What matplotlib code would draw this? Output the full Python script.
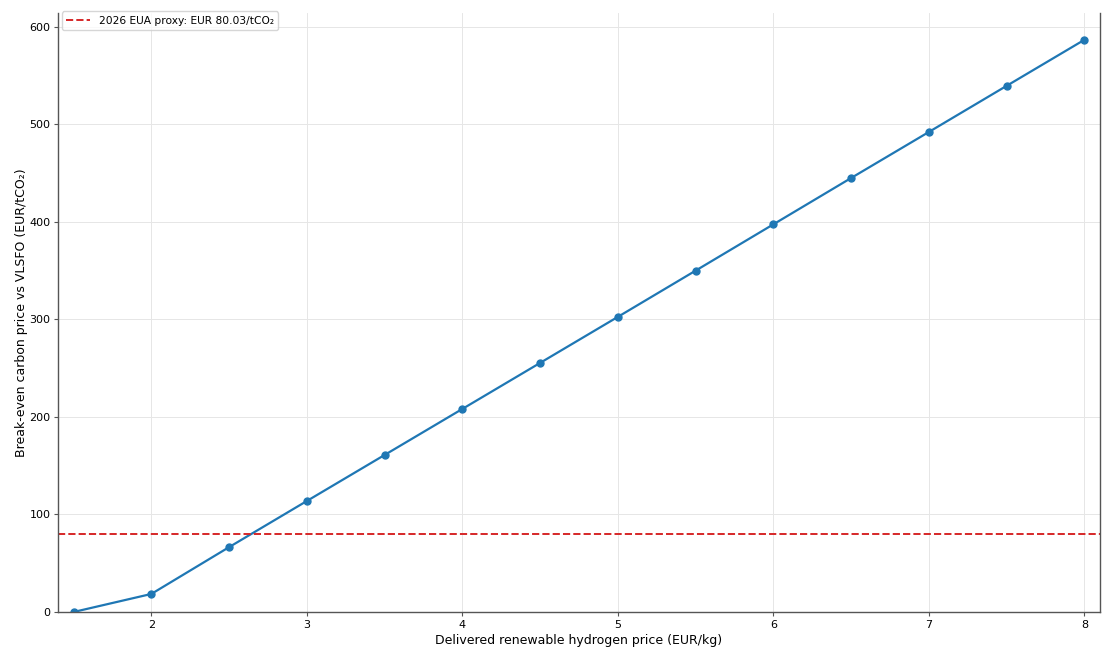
import matplotlib
matplotlib.use("Agg")
import matplotlib.pyplot as plt

h2_price = [1.5, 2.0, 2.5, 3.0, 3.5, 4.0, 4.5, 5.0, 5.5, 6.0, 6.5, 7.0, 7.5, 8.0]
breakeven = [0.0, 18.5, 66.5, 113.8, 161.0, 208.2, 255.4, 302.6, 350.0, 397.5, 445.0, 492.2, 539.5, 586.7]
eua_price = 80.03

fig = plt.figure(figsize=(11.13, 6.58), dpi=100)
ax = fig.add_axes([0.0521, 0.0699, 0.9362, 0.9101])

ax.plot(h2_price, breakeven, color="#1f77b4", marker="o", markersize=5, linewidth=1.6)
ax.axhline(eua_price, color="#d62728", linestyle="--", linewidth=1.4,
           label="2026 EUA proxy: EUR 80.03/tCO\u2082")

ax.set_xlim(1.40, 8.10)
ax.set_ylim(0, 614)
ax.set_xticks([2, 3, 4, 5, 6, 7, 8])
ax.set_yticks([0, 100, 200, 300, 400, 500, 600])
ax.grid(True, color="#e6e6e6", linewidth=0.7)
ax.set_axisbelow(True)

ax.set_xlabel("Delivered renewable hydrogen price (EUR/kg)", fontsize=9, labelpad=3)
ax.set_ylabel("Break-even carbon price vs VLSFO (EUR/tCO\u2082)", fontsize=9, labelpad=1)
ax.tick_params(labelsize=8, color="#555555", length=3, width=0.8, pad=2.5)

ax.spines["top"].set_visible(False)
for s in ["left", "right", "bottom"]:
    ax.spines[s].set_color("#555555")
    ax.spines[s].set_linewidth(1.0)

ax.legend(loc="upper left", fontsize=7.7, bbox_to_anchor=(0.004, 1.003),
          borderaxespad=0.0, handlelength=2.2)

fig.savefig("out.png", dpi=100)
